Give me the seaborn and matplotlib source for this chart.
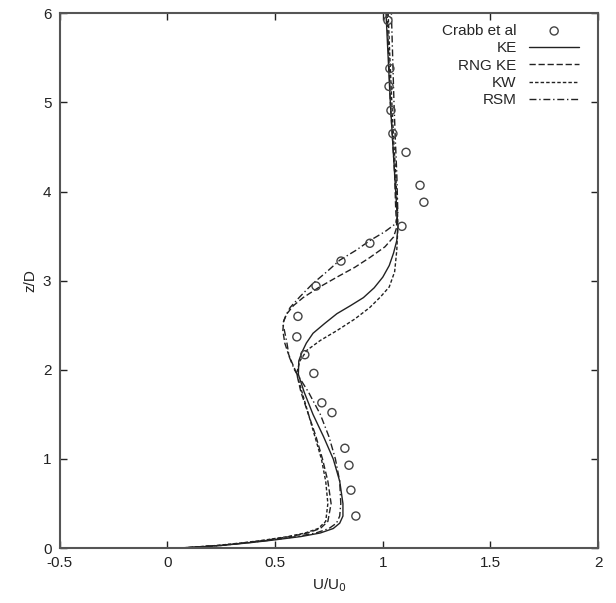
import numpy as np
import pandas as pd
import matplotlib
matplotlib.use("Agg")
import matplotlib.pyplot as plt
import seaborn as sns

# experimental points (Crabb et al)
exp_u = [1.024, 1.033, 1.029, 1.038, 1.047, 1.108, 1.173, 1.191, 1.089, 0.94, 0.806,
         0.69, 0.606, 0.601, 0.638, 0.68, 0.717, 0.764, 0.824, 0.843, 0.852, 0.875]
exp_z = [5.92, 5.38, 5.18, 4.91, 4.65, 4.44, 4.07, 3.88, 3.61, 3.42, 3.22,
         2.94, 2.60, 2.37, 2.17, 1.96, 1.63, 1.52, 1.12, 0.93, 0.65, 0.36]

# model profiles
ke_z = [0, 0.01, 0.03, 0.06, 0.09, 0.13, 0.17, 0.22, 0.28, 0.36, 0.5, 0.75, 1.0, 1.25,
        1.5, 1.75, 1.95, 2.1, 2.2, 2.3, 2.41, 2.52, 2.63, 2.72, 2.81, 2.92, 3.04, 3.17,
        3.31, 3.45, 3.6, 3.8, 4.2, 4.6, 5.0, 5.5, 6.0]
ke_u = [0.05, 0.12, 0.25, 0.38, 0.49, 0.62, 0.71, 0.77, 0.80, 0.815, 0.815, 0.80, 0.77, 0.725,
        0.676, 0.635, 0.608, 0.61, 0.625, 0.645, 0.676, 0.73, 0.787, 0.85, 0.91, 0.96, 1.0, 1.03,
        1.05, 1.065, 1.07, 1.065, 1.055, 1.045, 1.035, 1.025, 1.015]

rng_z = [0, 0.01, 0.03, 0.06, 0.09, 0.13, 0.17, 0.22, 0.3, 0.5, 0.75, 1.0, 1.25, 1.5, 1.75,
         1.96, 2.1, 2.19, 2.3, 2.44, 2.55, 2.63, 2.72, 2.81, 2.92, 3.04, 3.15, 3.26, 3.38,
         3.49, 3.6, 3.8, 4.2, 4.6, 5.0, 5.5, 6.0]
rng_u = [0.05, 0.12, 0.24, 0.36, 0.46, 0.57, 0.65, 0.71, 0.745, 0.76, 0.745, 0.72, 0.69, 0.655, 0.62,
         0.60, 0.575, 0.56, 0.545, 0.536, 0.54, 0.555, 0.585, 0.63, 0.70, 0.787, 0.87, 0.94, 1.01,
         1.05, 1.065, 1.06, 1.055, 1.045, 1.035, 1.028, 1.02]

kw_z = [0, 0.01, 0.03, 0.06, 0.09, 0.13, 0.17, 0.22, 0.3, 0.5, 0.75, 1.0, 1.25, 1.5, 1.75,
        1.96, 2.1, 2.22, 2.33, 2.44, 2.57, 2.70, 2.82, 2.93, 3.1, 3.34, 3.6, 3.8, 4.2, 4.6,
        5.0, 5.5, 6.0]
kw_u = [0.05, 0.11, 0.23, 0.35, 0.45, 0.56, 0.64, 0.70, 0.735, 0.745, 0.735, 0.715, 0.685, 0.655, 0.625,
        0.60, 0.615, 0.648, 0.71, 0.787, 0.87, 0.94, 0.99, 1.03, 1.055, 1.065, 1.07, 1.068, 1.06, 1.05,
        1.042, 1.033, 1.025]

rsm_z = [0, 0.01, 0.03, 0.06, 0.09, 0.13, 0.17, 0.22, 0.28, 0.36, 0.5, 0.75, 1.0, 1.25, 1.5,
         1.75, 2.0, 2.15, 2.30, 2.42, 2.52, 2.61, 2.70, 2.82, 2.97, 3.10, 3.23, 3.34, 3.45,
         3.55, 3.64, 3.75, 4.2, 4.6, 5.0, 5.5, 6.0]
rsm_u = [0.05, 0.12, 0.25, 0.37, 0.48, 0.60, 0.69, 0.75, 0.785, 0.80, 0.805, 0.80, 0.78, 0.75, 0.71,
         0.655, 0.59, 0.565, 0.555, 0.545, 0.536, 0.55, 0.57, 0.615, 0.676, 0.74, 0.80, 0.875, 0.94,
         1.01, 1.06, 1.07, 1.065, 1.058, 1.052, 1.046, 1.04]

models = [
    ("KE", ke_u, ke_z, (None, None)),
    ("RNG KE", rng_u, rng_z, (4.5, 2)),
    ("KW", kw_u, kw_z, (2.5, 1.5)),
    ("RSM", rsm_u, rsm_z, (5, 2, 1, 2)),
]

sns.set_style("ticks")
plt.rcParams['font.family'] = ['Liberation Sans', 'DejaVu Sans']

fig, ax = plt.subplots(figsize=(6.16, 6.03), dpi=100)
fig.subplots_adjust(left=0.097, right=0.971, top=0.978, bottom=0.091)

sns.scatterplot(x=exp_u, y=exp_z, ax=ax, marker="o", s=34, facecolor="none",
                edgecolor="#444444", linewidth=1.0, label="Crabb et al", zorder=3)

for name, u, z, dash in models:
    df = pd.DataFrame({"U": u, "z": z})
    sns.lineplot(data=df, x="U", y="z", ax=ax, sort=False, estimator=None,
                 color="#222222", linewidth=1.0, label=name)
    if dash[0] is not None:
        ax.lines[-1].set_dashes(dash)

ax.set_xlim(-0.5, 2)
ax.set_ylim(0, 6)
ax.set_xticks(np.arange(-0.5, 2.01, 0.5))
ax.set_xticklabels(["-0.5", "0", "0.5", "1", "1.5", "2"])
ax.set_yticks(range(0, 7))
ax.set_xlabel("U/U$_0$", fontsize=11, color="#222222")
ax.set_ylabel("z/D", fontsize=11, color="#222222")
ax.tick_params(direction="in", length=5, width=1, top=True, right=True,
               labelsize=11, colors="#222222", pad=6)
for sp in ax.spines.values():
    sp.set_visible(True)
    sp.set_linewidth(1.5)
    sp.set_color("#555555")

ax.legend(loc="upper right", frameon=False, markerfirst=False, fontsize=11,
          handlelength=3.3, labelspacing=0.22, borderaxespad=0.3,
          bbox_to_anchor=(0.985, 1.0))

fig.savefig("out.png", dpi=100)
